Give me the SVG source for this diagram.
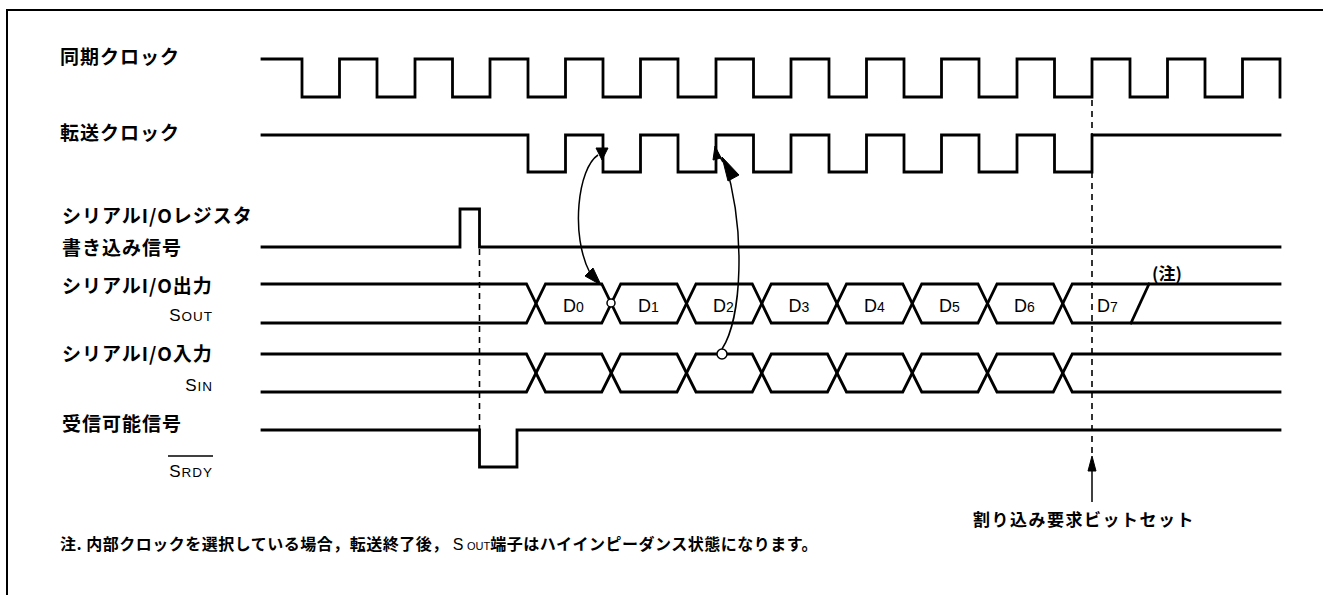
<svg xmlns="http://www.w3.org/2000/svg" width="1323" height="595" viewBox="0 0 1323 595">
<style>
.w{fill:none;stroke:#000;stroke-width:2.8;stroke-linejoin:miter;stroke-linecap:square}
.thin{fill:none;stroke:#000;stroke-width:1.5}
.dash{fill:none;stroke:#000;stroke-width:1.6;stroke-dasharray:6,5}
.ah{fill:#000;stroke:#000;stroke-width:1;stroke-linejoin:miter}
.lbl{font-family:"Noto Sans CJK JP","Noto Sans CJK SC",sans-serif;font-size:19px;font-weight:bold;letter-spacing:1px;fill:#000}
.note{font-family:"Noto Sans CJK JP","Noto Sans CJK SC",sans-serif;font-size:16px;font-weight:bold;letter-spacing:0.5px;fill:#000}
.lat{font-family:"Liberation Sans",Arial,sans-serif;fill:#000}
</style>

<g id="frame">
<path d="M7,595 V10 H1323" fill="none" stroke="#000" stroke-width="2"/>
</g>

<g id="sync-clock">
<text class="lbl" x="60" y="64">同期クロック</text>
<path class="w" d="M262,59 H302 V97 H339.5 V59 H377 V97 H415 V59 H452.5 V97 H490 V59 H528 V97 H565.5 V59 H603 V97 H640.5 V59 H678 V97 H716 V59 H753.5 V97 H791 V59 H829 V97 H866.5 V59 H904 V97 H941.5 V59 H979 V97 H1017 V59 H1054.5 V97 H1092 V59 H1130 V97 H1167.5 V59 H1205 V97 H1242.5 V59 H1280 V97"/>
</g>

<g id="transfer-clock">
<text class="lbl" x="60" y="140">転送クロック</text>
<path class="w" d="M262,135 H528 V172 H565.5 V135 H603 V172 H640.5 V135 H678 V172 H716 V135 H753.5 V172 H791 V135 H829 V172 H866.5 V135 H904 V172 H941.5 V135 H979 V172 H1017 V135 H1054.5 V172 H1092 V135 H1280"/>
</g>

<g id="write-signal">
<text class="lbl" x="62" y="223">シリアルI/Oレジスタ</text>
<text class="lbl" x="62" y="255">書き込み信号</text>
<path class="w" d="M262,247 H460 V209 H479.5 V247 H1280"/>
</g>

<g id="serial-out">
<text class="lbl" x="62" y="293">シリアルI/O出力</text>
<text class="lat" x="213" y="321" text-anchor="end" letter-spacing="1"><tspan font-size="17">S</tspan><tspan font-size="13.5">OUT</tspan></text>
<path class="w" d="M262,284 H526.5 L545.5,323 H601.75 L620.75,284 H677 L696,323 H752.25 L771.25,284 H827.5 L846.5,323 H902.75 L921.75,284 H978 L997,323 H1053.25 L1072.25,284 H1280"/>
<path class="w" d="M262,323 H526.5 L545.5,284 H601.75 L620.75,323 H677 L696,284 H752.25 L771.25,323 H827.5 L846.5,284 H902.75 L921.75,323 H978 L997,284 H1053.25 L1072.25,323 H1280"/>
<path class="w" d="M1131,323 L1149,284"/>
<g class="lat">
<text x="563" y="312"><tspan font-size="18">D</tspan><tspan font-size="14">0</tspan></text>
<text x="638" y="312"><tspan font-size="18">D</tspan><tspan font-size="14">1</tspan></text>
<text x="713" y="312"><tspan font-size="18">D</tspan><tspan font-size="14">2</tspan></text>
<text x="788.5" y="312"><tspan font-size="18">D</tspan><tspan font-size="14">3</tspan></text>
<text x="864" y="312"><tspan font-size="18">D</tspan><tspan font-size="14">4</tspan></text>
<text x="939" y="312"><tspan font-size="18">D</tspan><tspan font-size="14">5</tspan></text>
<text x="1014" y="312"><tspan font-size="18">D</tspan><tspan font-size="14">6</tspan></text>
<text x="1097" y="312"><tspan font-size="18">D</tspan><tspan font-size="14">7</tspan></text>
</g>
<text class="lbl" x="1152" y="280" style="font-size:17px;letter-spacing:0">(注)</text>
</g>

<g id="serial-in">
<text class="lbl" x="62" y="361">シリアルI/O入力</text>
<text class="lat" x="213" y="391" text-anchor="end" letter-spacing="1"><tspan font-size="17">S</tspan><tspan font-size="13.5">IN</tspan></text>
<path class="w" d="M262,354 H526.5 L545.5,392 H601.75 L620.75,354 H677 L696,392 H752.25 L771.25,354 H827.5 L846.5,392 H902.75 L921.75,354 H978 L997,392 H1053.25 L1072.25,354 H1280"/>
<path class="w" d="M262,392 H526.5 L545.5,354 H601.75 L620.75,392 H677 L696,354 H752.25 L771.25,392 H827.5 L846.5,354 H902.75 L921.75,392 H978 L997,354 H1053.25 L1072.25,392 H1280"/>
</g>

<g id="srdy">
<text class="lbl" x="62" y="431">受信可能信号</text>
<text class="lat" x="213" y="477" text-anchor="end" letter-spacing="1"><tspan font-size="17">S</tspan><tspan font-size="13.5">RDY</tspan></text>
<path d="M168,456 H213" fill="none" stroke="#000" stroke-width="1.5"/>
<path class="w" d="M262,430 H479.5 V467 H517 V430 H1280"/>
</g>

<g id="interrupt">
<text class="note" x="973" y="526" style="font-size:17px;letter-spacing:1.5px">割り込み要求ビットセット</text>
</g>

<g id="note">
<text class="note" x="60" y="550">注. 内部クロックを選択している場合，転送終了後，<tspan class="lat" font-size="16" font-weight="normal" dx="4">S</tspan><tspan class="lat" font-size="11" font-weight="normal" letter-spacing="0" dx="3">OUT</tspan>端子はハイインピーダンス状態になります。</text>
</g>

<g id="connectors">
<path class="dash" d="M479.5,249 V430"/>
<path class="dash" d="M1092,100 V135 M1092,172 V458"/>
<path class="thin" d="M1092,502 V468"/>
<path class="ah" d="M1092,456 L1096,471 L1088,471 Z"/>
<circle cx="611" cy="303" r="4" fill="#fff" stroke="#000" stroke-width="1.5"/>
<circle cx="722" cy="354" r="5" fill="#fff" stroke="#000" stroke-width="1.5"/>
<path class="thin" d="M598,155 C578,168 570,235 590,273"/>
<path class="ah" d="M602,160 L596,148 L608,148 Z"/>
<path class="ah" d="M601,285 L585,276 L593,268 Z"/>
<path class="thin" d="M722,349 C742,318 746,232 725,162"/>
<path class="ah" d="M722,157 L739,175 L728,181 Z"/>
<path class="thin" d="M723,162 L716,150"/>
<path class="ah" d="M715,146 L721,158 L713,160 Z"/>
</g>
</svg>
